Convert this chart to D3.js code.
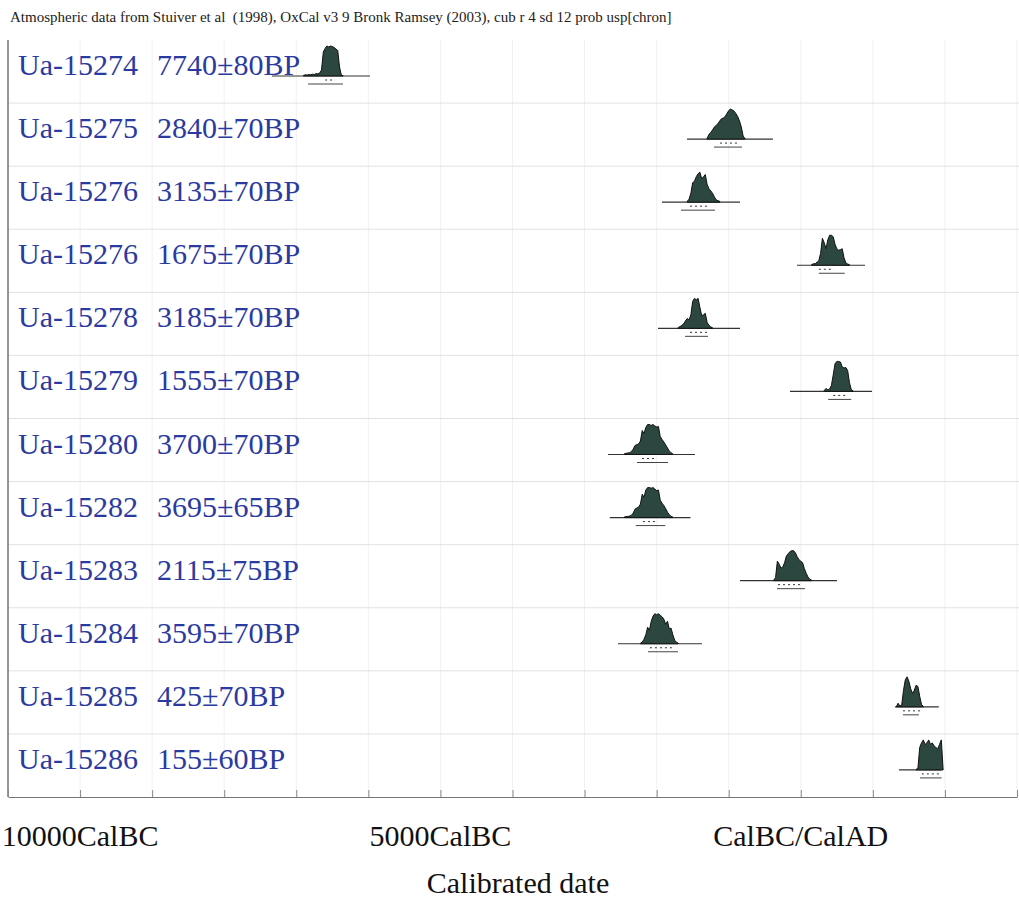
<!DOCTYPE html>
<html>
<head>
<meta charset="utf-8">
<script src="https://cdn.jsdelivr.net/npm/d3@7"></script>
<style>
  html, body { margin: 0; padding: 0; background: #fff; }
  svg { display: block; }
  text { font-family: "Liberation Serif", "Times New Roman", serif; }
</style>
</head>
<body>
<script>
// ---------------- DATA ----------------
const titleText = "Atmospheric data from Stuiver et al  (1998), OxCal v3 9 Bronk Ramsey (2003), cub r 4 sd 12 prob usp[chron]";
const sampleIds = ["Ua-15274","Ua-15275","Ua-15276","Ua-15276","Ua-15278","Ua-15279","Ua-15280","Ua-15282","Ua-15283","Ua-15284","Ua-15285","Ua-15286"];
const bpAges    = [7740, 2840, 3135, 1675, 3185, 1555, 3700, 3695, 2115, 3595, 425, 155];
const bpErrors  = [80, 70, 70, 70, 70, 70, 70, 65, 75, 70, 70, 60];

// probability curves (relative), sampled every 25 years from probStart (negative = BC)
const probStep  = 25;
const probStart = [-6900, -1300, -1575, 150, -1700, 325, -2450, -2450, -375, -2225, 1325, 1600];
const prob_Ua15274 = [0.02,0.04,0.03,0.05,0.04,0.06,0.05,0.08,0.07,0.1,0.2,0.8,0.92,1.0,0.97,1.0,0.98,0.95,0.9,0.85,0.3,0.03,0.01];
const prob_Ua15275 = [0.02,0.15,0.22,0.3,0.4,0.45,0.52,0.6,0.68,0.7,0.75,0.85,0.95,1.0,0.97,0.93,0.85,0.75,0.6,0.4,0.1,0.02];
const prob_Ua15276a = [0.03,0.1,0.3,0.65,0.7,0.85,0.95,1.0,0.78,0.85,0.92,0.6,0.45,0.38,0.3,0.18,0.08,0.05,0.03];
const prob_Ua15276b = [0.02,0.05,0.05,0.1,0.15,0.4,0.9,0.75,0.55,0.85,1.0,1.0,0.95,0.7,0.55,0.5,0.52,0.55,0.25,0.08,0.04,0.02];
const prob_Ua15278 = [0.03,0.06,0.1,0.15,0.25,0.33,0.28,0.45,0.9,1.0,0.95,1.0,0.7,0.42,0.45,0.5,0.2,0.1,0.05,0.02];
const prob_Ua15279 = [0.03,0.1,0.05,0.08,0.2,0.55,0.92,1.0,1.0,0.98,0.82,0.78,0.8,0.7,0.3,0.06,0.02];
const prob_Ua15280 = [0.02,0.04,0.05,0.06,0.1,0.18,0.3,0.33,0.35,0.45,0.8,0.7,0.9,1.0,1.0,0.97,1.0,0.95,0.92,0.93,0.6,0.5,0.42,0.32,0.22,0.12,0.06,0.02];
const prob_Ua15282 = [0.02,0.03,0.04,0.05,0.08,0.15,0.28,0.32,0.35,0.45,0.78,0.68,0.92,1.0,1.0,0.98,1.0,0.95,0.9,0.92,0.58,0.48,0.4,0.3,0.18,0.1,0.04,0.02];
const prob_Ua15283 = [0.02,0.1,0.65,0.55,0.42,0.45,0.6,0.82,0.9,0.97,1.0,1.0,0.93,0.8,0.7,0.65,0.6,0.4,0.25,0.12,0.05,0.02];
const prob_Ua15284 = [0.02,0.06,0.15,0.3,0.55,0.45,0.75,0.92,1.0,0.97,1.0,0.95,0.9,0.82,0.65,0.75,0.5,0.52,0.3,0.12,0.05,0.02];
const prob_Ua15285 = [0.0,0.12,0.03,0.05,0.55,0.9,1.0,0.85,0.6,0.45,0.55,0.72,0.68,0.35,0.08,0.02];
const prob_Ua15286 = [0.02,0.05,0.75,0.9,1.0,0.85,0.9,1.0,0.85,0.9,0.8,0.75,0.7,0.85,1.0,0.0];
const probs = [prob_Ua15274, prob_Ua15275, prob_Ua15276a, prob_Ua15276b, prob_Ua15278, prob_Ua15279,
               prob_Ua15280, prob_Ua15282, prob_Ua15283, prob_Ua15284, prob_Ua15285, prob_Ua15286];

// extent of the plotted baseline for each sample (years)
const baseFrom = [-7337, -1579, -1926, -53, -1981, -150, -2675, -2650, -843, -2536, 1307, 1362];
const baseTo   = [-5977, -386, -843, 891, -843, 988, -1468, -1530, 502, -1371, 1915, 1955];
// 68.2% and 95.4% ranges (years)
const range68From = [-6600, -1121, -1537, 250, -1537, 450, -2203, -2190, -316, -2093, 1418, 1680];
const range68To   = [-6460, -885, -1287, 460, -1301, 655, -1995, -1980, 17, -1787, 1654, 1955];
const range95From = [-6837, -1204, -1662, 250, -1606, 380, -2273, -2290, -330, -2120, 1418, 1654];
const range95To   = [-6352, -816, -1190, 610, -1287, 700, -1842, -1880, 58, -1704, 1640, 1955];

// axis
const axisTicks  = d3.range(-11000, 3001, 1000);
const axisLabelYears = [-10000, -5000, 0];
const axisLabelText  = ["10000CalBC", "5000CalBC", "CalBC/CalAD"];
const axisTitle = "Calibrated date";

// ---------------- CHART ----------------
const W = 1019, H = 899;
const plotLeft = 8, plotRight = 1017, plotTop = 40, plotBottom = 797;

const svg = d3.select("body").append("svg").attr("width", W).attr("height", H);

const x = d3.scaleLinear().domain([-11000, 3000]).range([plotLeft, plotRight]);
const rows = d3.scaleBand().domain(d3.range(sampleIds.length)).range([plotTop, plotBottom]).paddingInner(0).paddingOuter(0);
const yProb = d3.scaleLinear().domain([0, 1]).range([0, 30]);

// title
svg.append("text").attr("x", 10).attr("y", 22).attr("font-size", 15).attr("fill", "#222")
  .style("white-space", "pre").text(titleText);

// vertical faint gridlines
svg.append("g").selectAll("line").data(axisTicks).join("line")
  .attr("x1", d => x(d)).attr("x2", d => x(d))
  .attr("y1", plotTop).attr("y2", plotBottom)
  .attr("stroke", "#f1f1f1").attr("stroke-width", 1);

// horizontal row separators
svg.append("g").selectAll("line").data(d3.range(1, sampleIds.length)).join("line")
  .attr("x1", plotLeft).attr("x2", W)
  .attr("y1", d => rows(d)).attr("y2", d => rows(d))
  .attr("stroke", "#e2e2e2").attr("stroke-width", 1);

// left axis line
svg.append("line").attr("x1", plotLeft).attr("x2", plotLeft).attr("y1", plotTop).attr("y2", plotBottom)
  .attr("stroke", "#555").attr("stroke-width", 1.2);

// bottom axis
const axisG = svg.append("g").attr("transform", `translate(0,${plotBottom})`)
  .call(d3.axisBottom(x).tickValues(axisTicks).tickSizeInner(-7).tickSizeOuter(0).tickFormat(""));
axisG.select(".domain").attr("stroke", "#777").attr("stroke-width", 1.2);
axisG.selectAll(".tick line").attr("stroke", "#888");
axisG.selectAll(".tick text").remove();

svg.append("g").selectAll("text").data(axisLabelYears).join("text")
  .attr("x", d => x(d)).attr("y", 846)
  .attr("text-anchor", "middle").attr("font-size", 30).attr("fill", "#111")
  .text((d, i) => axisLabelText[i]);

svg.append("text").attr("x", 518).attr("y", 893).attr("text-anchor", "middle")
  .attr("font-size", 30).attr("fill", "#111").text(axisTitle);

// rows
const baseOffset = 36;
const area = d3.area().x(d => x(d.year)).y0(0).y1(d => -yProb(d.p)).curve(d3.curveLinear);

sampleIds.forEach((id, i) => {
  const top = rows(i);
  const by = top + baseOffset;
  const g = svg.append("g");

  g.append("text").attr("x", 18).attr("y", top + 35)
    .attr("font-size", 30).attr("fill", "#2b3aa0").style("white-space", "pre")
    .attr("word-spacing", 2)
    .text(`${id}  ${bpAges[i]}\u00b1${bpErrors[i]}BP`);

  // baseline
  g.append("line").attr("x1", x(baseFrom[i])).attr("x2", x(baseTo[i]))
    .attr("y1", by).attr("y2", by).attr("stroke", "#333").attr("stroke-width", 1.2);

  const pts = probs[i].map((p, k) => ({year: probStart[i] + k * probStep, p}));
  g.append("path").datum(pts)
    .attr("transform", `translate(0,${by})`)
    .attr("d", area)
    .attr("fill", "#2c4640").attr("stroke", "#111").attr("stroke-width", 1).attr("stroke-linejoin", "round");

  // ranges
  g.append("line").attr("x1", x(range68From[i])).attr("x2", x(range68To[i]))
    .attr("y1", by + 4).attr("y2", by + 4)
    .attr("stroke", "#333").attr("stroke-width", 1).attr("stroke-dasharray", "2,3");
  g.append("line").attr("x1", x(range95From[i])).attr("x2", x(range95To[i]))
    .attr("y1", by + 8).attr("y2", by + 8)
    .attr("stroke", "#444").attr("stroke-width", 1);
});
</script>
</body>
</html>
